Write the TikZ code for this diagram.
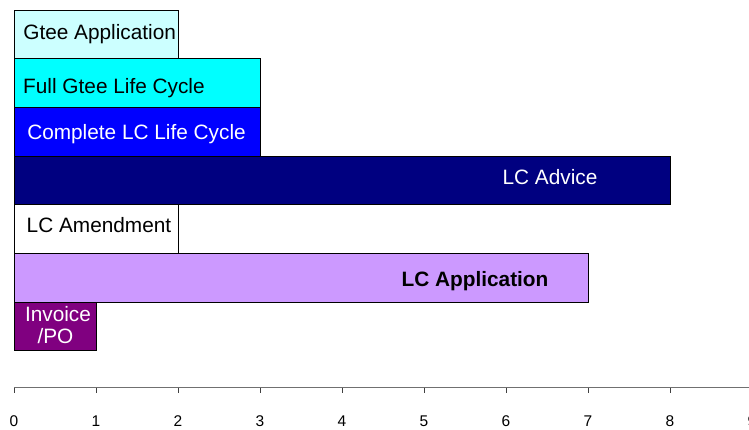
\documentclass[tikz,border=0pt]{standalone}
\usepackage{fontspec}
\setmainfont{Liberation Sans}
\definecolor{ltcyan}{HTML}{CCFFFF}
\definecolor{cyanc}{HTML}{00FFFF}
\definecolor{bluec}{HTML}{0000FF}
\definecolor{navyc}{HTML}{000080}
\definecolor{lavc}{HTML}{CC99FF}
\definecolor{purpc}{HTML}{800080}
\definecolor{axisc}{HTML}{707070}
\tikzset{
  bar/.style={draw=black, line width=0.9pt},
  lbl/.style={inner sep=0pt, anchor=base, font=\fontsize{20.8}{24}\selectfont},
  ticklbl/.style={inner sep=0pt, anchor=base, font=\fontsize{15.5}{18}\selectfont, text=black},
}
\begin{document}
\begin{tikzpicture}[x=1pt, y=-1pt]
\useasboundingbox (0,0) rectangle (749,430);
\clip (0,0) rectangle (749,430);
\fill[white] (0,0) rectangle (749,430);
% bars (unit = 82px, origin x = 14)
\path[bar, fill=ltcyan] (14,10)    rectangle (178,58.7);
\path[bar, fill=cyanc]  (14,58.7)  rectangle (260,107.4);
\path[bar, fill=bluec]  (14,107.4) rectangle (260,156.1);
\path[bar, fill=navyc]  (14,156.1) rectangle (670,204.8);
\path[bar, fill=white]  (14,204.8) rectangle (178,253.5);
\path[bar, fill=lavc]   (14,253.5) rectangle (588,302.2);
\path[bar, fill=purpc]  (14,302.2) rectangle (96,350.9);
% labels
\node[lbl] (gtee)  at (99.7,39.3)  {Gtee Application};
\node[lbl, anchor=base west] (fullg) at (23,94) {Full Gtee Life Cycle};
\node[lbl, text=white] (complc) at (136.5,140) {Complete LC Life Cycle};
\node[lbl, text=white] (lcadv)  at (550,184.3) {LC Advice};
\node[lbl] (lcamd)  at (99,232.3) {LC Amendment};
\node[lbl, font=\fontsize{20.8}{24}\selectfont\bfseries] (lcapp) at (475,286.7) {LC Application};
\node[lbl, text=white] (inv1) at (58,321.7) {Invoice};
\node[lbl, text=white] (inv2) at (55.5,343.3) {/PO};
% axis
\coordinate (ax0) at (14,387.5);
\coordinate (ax1) at (749,387.5);
\draw[axisc, line width=1.3pt] (ax0) -- (ax1);
\foreach \i in {0,...,9} {
  \coordinate (t\i) at ({14+82*\i},387.5);
  \draw[black!75, line width=0.8pt] (t\i) -- ++(0,5);
  \node[ticklbl] (n\i) at ({14+82*\i},426.5) {\i};
}
\end{tikzpicture}
\end{document}
